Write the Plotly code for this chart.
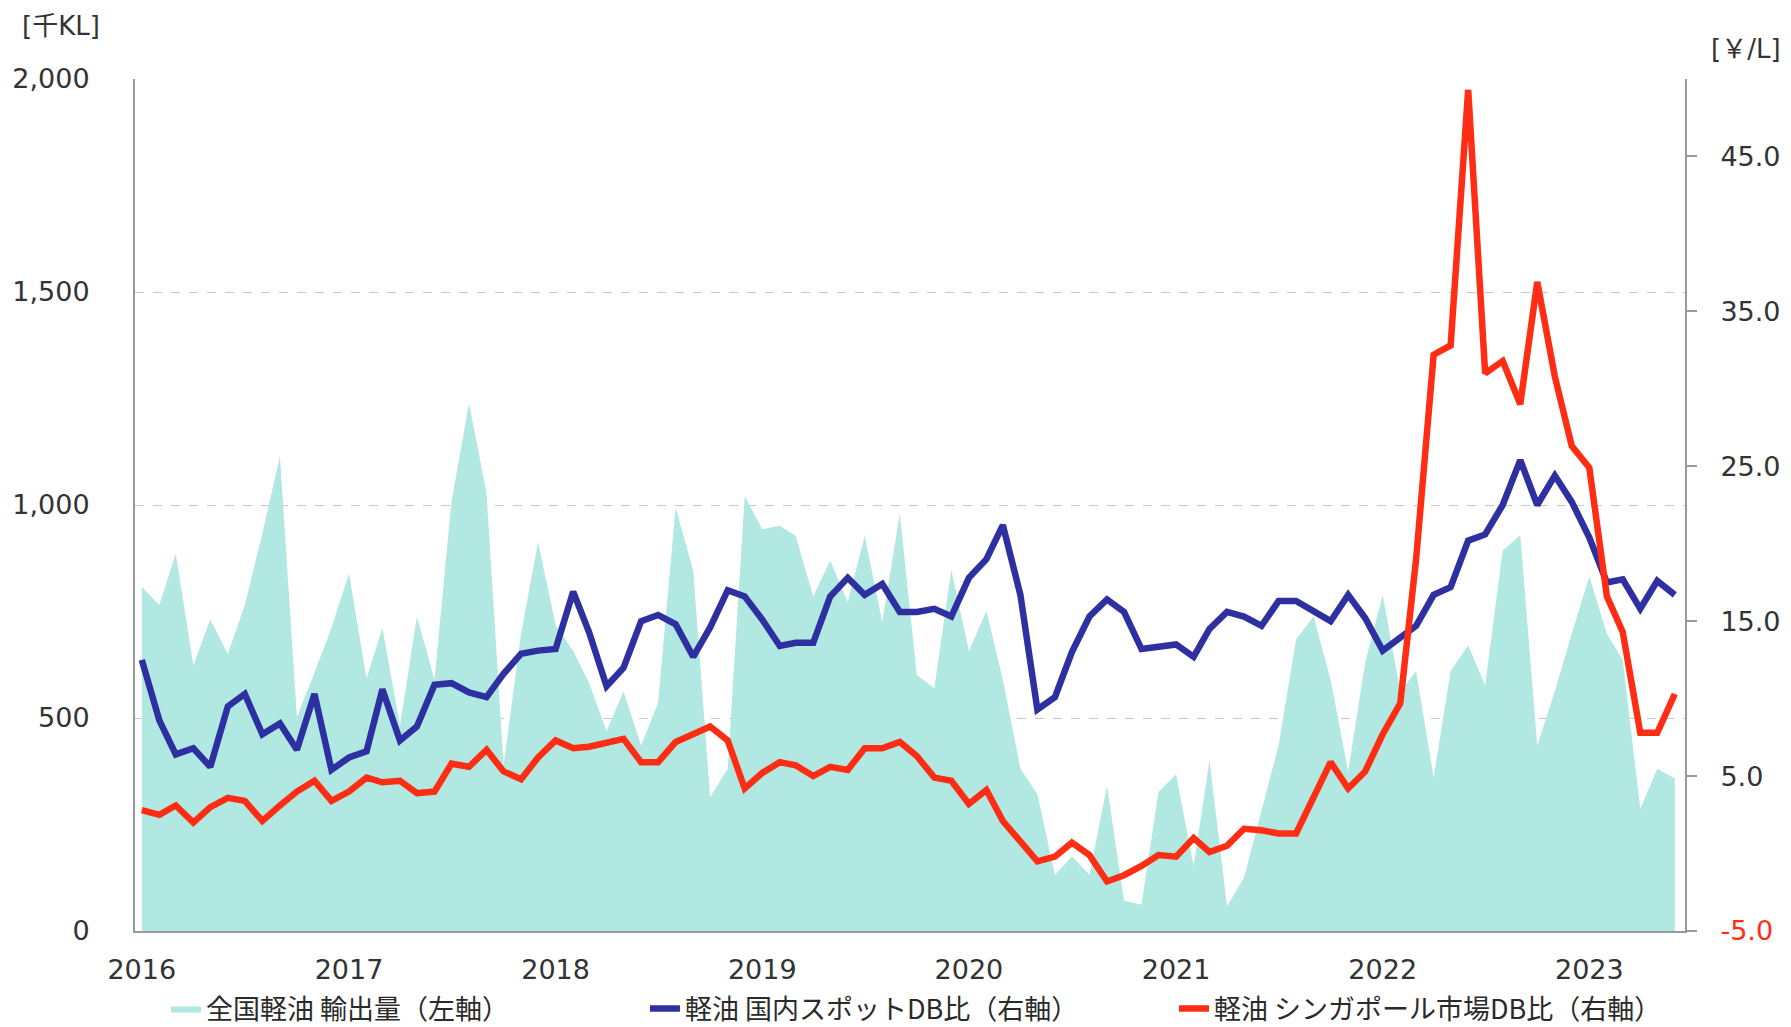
import pandas as pd
import plotly.graph_objects as go

# Monthly data, Jan 2016 - Jun 2023
months = pd.date_range("2016-01-01", periods=90, freq="MS").strftime("%Y-%m-%d").tolist()

# 全国軽油 輸出量 (千KL, left axis)
export_volume = [
    808, 765, 886, 624, 731, 650, 765, 933, 1115, 502, 606, 711,
    839, 593, 711, 482, 738, 590, 1007, 1239, 1028, 388, 698, 913,
    718, 657, 583, 469, 563, 435, 536, 994, 846, 314, 381, 1021,
    943, 951, 927, 785, 870, 772, 927, 725, 980, 601, 570, 848,
    657, 751, 590, 381, 321, 132, 175, 132, 341, 71, 62, 327,
    368, 152, 401, 58, 125, 280, 435, 684, 738, 590, 374, 630,
    789, 563, 610, 361, 610, 671, 576, 893, 929, 435, 563, 698,
    832, 698, 637, 287, 381, 358,
]

# 軽油 国内スポットDB比 (¥/L, right axis)
domestic_spot = [
    12.5, 8.6, 6.4, 6.8, 5.6, 9.5, 10.3, 7.7, 8.4, 6.7, 10.3, 5.4,
    6.2, 6.6, 10.6, 7.3, 8.2, 10.9, 11.0, 10.4, 10.1, 11.6, 12.9, 13.1,
    13.2, 16.9, 14.3, 10.8, 12.0, 15.0, 15.4, 14.8, 12.7, 14.6, 17.0, 16.6,
    15.1, 13.4, 13.6, 13.6, 16.6, 17.8, 16.7, 17.4, 15.6, 15.6, 15.8, 15.3,
    17.8, 19.0, 21.2, 16.7, 9.3, 10.1, 13.0, 15.3, 16.4, 15.6, 13.2, 13.3,
    13.5, 12.7, 14.5, 15.6, 15.3, 14.7, 16.3, 16.3, 15.6, 15.0, 16.7, 15.2,
    13.1, 14.0, 14.7, 16.7, 17.2, 20.2, 20.6, 22.5, 25.4, 22.5, 24.4, 22.7,
    20.4, 17.5, 17.7, 15.8, 17.6, 16.7,
]

# 軽油 シンガポール市場DB比 (¥/L, right axis)
singapore = [
    2.8, 2.5, 3.1, 2.0, 3.0, 3.6, 3.4, 2.1, 3.1, 4.0, 4.7, 3.4,
    4.0, 4.9, 4.6, 4.7, 3.9, 4.0, 5.8, 5.6, 6.7, 5.3, 4.8, 6.2,
    7.3, 6.8, 6.9, 7.2, 7.4, 5.9, 5.9, 7.2, 7.7, 8.2, 7.3, 4.2,
    5.2, 5.9, 5.7, 5.0, 5.6, 5.4, 6.8, 6.8, 7.2, 6.3, 4.9, 4.7,
    3.2, 4.1, 2.1, 0.8, -0.5, -0.2, 0.7, -0.1, -1.8, -1.4, -0.8, -0.1,
    -0.2, 1.0, 0.1, 0.5, 1.6, 1.5, 1.3, 1.3, 3.6, 5.9, 4.2, 5.3,
    7.7, 9.7, 19.0, 32.2, 32.8, 49.3, 31.0, 31.8, 29.0, 36.9, 30.8, 26.3,
    24.9, 16.6, 14.3, 7.8, 7.8, 10.3,
]

year_ticks = ["2016-01-01", "2017-01-01", "2018-01-01", "2019-01-01",
              "2020-01-01", "2021-01-01", "2022-01-01", "2023-01-01"]
year_labels = ["2016", "2017", "2018", "2019", "2020", "2021", "2022", "2023"]

left_ticks = [0, 500, 1000, 1500, 2000]
right_ticks = [-5, 5, 15, 25, 35, 45]
right_labels = ['<span style="color:#ff2d14">-5.0</span>', "5.0", "15.0", "25.0", "35.0", "45.0"]

names = ["全国軽油 輸出量（左軸）", "軽油 国内スポットDB比（右軸）", "軽油 シンガポール市場DB比（右軸）"]

TEAL = "#b2e8e2"
BLUE = "#2e30a1"
RED = "#ff2d14"
TICK_FONT = dict(family="DejaVu Sans, Verdana, sans-serif", size=27, color="#333333")
LEG_FONT = dict(family="Noto Sans CJK JP, sans-serif", size=27, color="#2a2a2a")

fig = go.Figure()
fig.add_trace(go.Scatter(
    x=months, y=export_volume, name=names[0], mode="lines",
    fill="tozeroy", fillcolor=TEAL, line=dict(width=0, color=TEAL),
    yaxis="y", legend="legend", showlegend=True,
))
fig.add_trace(go.Scatter(
    x=months, y=domestic_spot, name=names[1], mode="lines",
    line=dict(width=6.5, color=BLUE), yaxis="y2", legend="legend2", showlegend=True,
))
fig.add_trace(go.Scatter(
    x=months, y=singapore, name=names[2], mode="lines",
    line=dict(width=6.5, color=RED), yaxis="y2", legend="legend3", showlegend=True,
))

leg_common = dict(xref="container", yref="container", y=0.0175,
                  yanchor="middle", xanchor="left", orientation="h",
                  font=LEG_FONT, bgcolor="rgba(0,0,0,0)")

fig.update_layout(
    width=1791, height=1027,
    margin=dict(l=135, r=106, t=79, b=96, autoexpand=False),
    paper_bgcolor="white", plot_bgcolor="white",
    showlegend=True,
    xaxis=dict(
        type="date", range=["2015-12-20", "2023-06-19"],
        tickvals=year_ticks, ticktext=year_labels,
        showline=True, linecolor="#9a9a9a", linewidth=2,
        showgrid=False, ticks="", tickfont=TICK_FONT, ticklabelstandoff=14,
    ),
    yaxis=dict(
        range=[0, 2000], tickvals=left_ticks, tickformat=",",
        showline=True, linecolor="#9a9a9a", linewidth=2,
        showgrid=True, gridcolor="#c8c8c8", griddash="dash", gridwidth=1,
        zeroline=False, ticks="", tickfont=TICK_FONT, ticklabelstandoff=38,
    ),
    yaxis2=dict(
        range=[-5, 50], overlaying="y", side="right",
        tickvals=right_ticks, ticktext=right_labels,
        showline=True, linecolor="#9a9a9a", linewidth=2,
        showgrid=False, zeroline=False,
        ticks="outside", ticklen=10, tickwidth=2, tickcolor="#9a9a9a",
        tickfont=TICK_FONT, ticklabelstandoff=18,
    ),
    legend=dict(x=0.0927, **leg_common),
    legend2=dict(x=0.3601, **leg_common),
    legend3=dict(x=0.6555, **leg_common),
    annotations=[
        dict(text="[千KL]", xref="paper", yref="paper", x=-0.0742, y=1.0622,
             xanchor="left", yanchor="middle", showarrow=False,
             font=dict(family="DejaVu Sans, Noto Sans CJK JP", size=26, color="#333333")),
        dict(text="[￥/L]", xref="paper", yref="paper", x=1.0155, y=1.0352,
             xanchor="left", yanchor="middle", showarrow=False,
             font=dict(family="DejaVu Sans, Noto Sans CJK JP", size=26, color="#333333")),
    ],
)

fig.write_html(
    "out.html",
    config={"displayModeBar": False},
    post_script="document.body.style.margin='0';document.body.style.overflow='hidden';",
)
